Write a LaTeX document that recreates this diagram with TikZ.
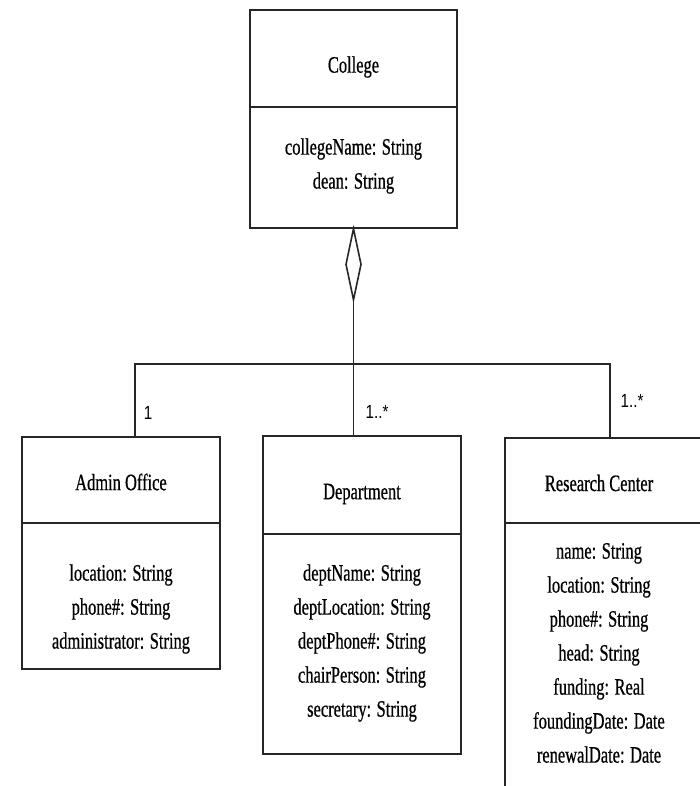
\documentclass[tikz,border=0pt]{standalone}
\usepackage{fontspec}
\setmainfont[FakeStretch=0.7,FakeBold=0.6]{Liberation Serif}
\newfontfamily\labelfont[FakeStretch=0.8]{Liberation Sans}
\usetikzlibrary{calc}
\begin{document}
\begin{tikzpicture}[x=1pt,y=-1pt,
  line/.style={draw=black!85, line width=1.6pt},
  classbox/.style={line, rectangle, inner sep=0pt},
  title/.style={font=\rmfamily\fontsize{23.5}{26}\selectfont, inner sep=0pt},
  attrs/.style={font=\rmfamily\fontsize{23.5}{34}\selectfont, align=center, inner sep=0pt},
  mult/.style={font=\labelfont\fontsize{19}{22}\selectfont, inner sep=0pt}]
\useasboundingbox (0,0) rectangle (700,786);
\clip (0,0) rectangle (700,786);

% College
\node[classbox, minimum width=207pt, minimum height=218pt] (college) at (353.5,119) {};
\draw[line] (250,107) coordinate (cdivL) -- (457,107) coordinate (cdivR);
\node[title] (collegeT) at (353.5,67) {College};
\node[attrs] (collegeA) at (353.5,166) {collegeName: String\\dean: String};

% Admin Office
\node[classbox, minimum width=198pt, minimum height=232pt] (admin) at (121,553) {};
\draw[line] (admin.west |- 0,523) -- (admin.east |- 0,523);
\node[title] (adminT) at (121,482) {Admin Office};
\node[attrs] (adminA) at (121,609) {location: String\\phone\#: String\\administrator: String};

% Department
\node[classbox, minimum width=198pt, minimum height=318pt] (dept) at (362,595) {};
\draw[line] (dept.west |- 0,534) -- (dept.east |- 0,534);
\node[title] (deptT) at (362,494) {Department};
\node[attrs] (deptA) at (362,643) {deptName: String\\deptLocation: String\\deptPhone\#: String\\chairPerson: String\\secretary: String};

% Research Center (runs past the right and bottom edges)
\node[classbox, minimum width=216pt, minimum height=373pt, anchor=north west] (research) at (504,437) {};
\draw[line] (research.west |- 0,523) -- (research.east |- 0,523);
\node[title] (researchT) at (599,483) {Research Center};
\node[attrs] (researchA) at (599,653) {name: String\\location: String\\phone\#: String\\head: String\\funding: Real\\foundingDate: Date\\renewalDate: Date};

% Aggregation from College to its parts
\coordinate (dtop) at (college.south);
\coordinate (dbot) at ($(dtop)+(0,71)$);
\draw[line, line join=miter] (dtop) -- ($(dtop)+(-7.5,35.5)$) -- (dbot) -- ($(dtop)+(7.5,35.5)$) -- cycle;
\coordinate (hub) at (355,364);
\coordinate (aTop) at (135,437);
\coordinate (rTop) at (610,437);
\draw[line] (dbot) -- (dept.north -| dbot);
\draw[line] (aTop) |- (hub) -| (rTop);

% Multiplicities
\node[mult] (m1) at (148,413) {1};
\node[mult] (m2) at (377,412) {1..*};
\node[mult] (m3) at (632,401) {1..*};
\end{tikzpicture}
\end{document}
